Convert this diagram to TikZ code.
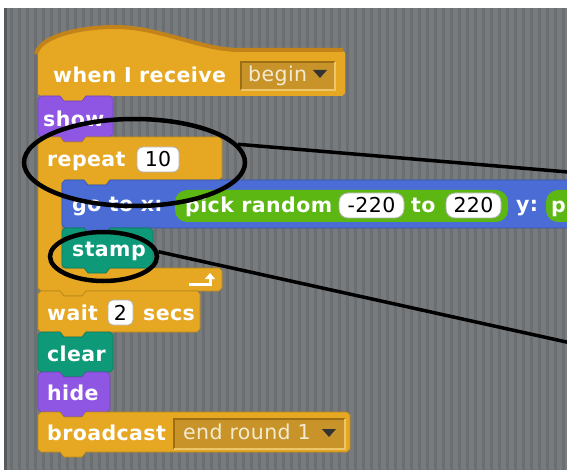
\documentclass[tikz,border=0pt]{standalone}
\usepackage{fontspec}
\usepackage{tikz}
\usetikzlibrary{shapes.geometric,arrows.meta}
\newfontfamily\blockfont[LetterSpace=2]{DejaVu Sans}
\definecolor{bggray}{HTML}{777B7E}
\definecolor{bgstripe}{HTML}{6B6F72}
\definecolor{bgedge}{HTML}{565A5D}
\definecolor{ctrl}{HTML}{E6A822}
\definecolor{ctrldark}{HTML}{C2841A}
\definecolor{looks}{HTML}{8F56E3}
\definecolor{motion}{HTML}{4A6CD4}
\definecolor{oper}{HTML}{5CB712}
\definecolor{pen}{HTML}{0E9A78}
\definecolor{ddfill}{HTML}{C8942A}
\definecolor{dddark}{HTML}{9C6F15}
\definecolor{ddlight}{HTML}{EDC56A}
\definecolor{ddtext}{HTML}{F4EAD0}

\newcommand{\blok}[5]{%
  \filldraw[fill=#5,draw=#5!80!black,line width=0.6pt] (#1,#2+3) -- (#1+3,#2) -- (#1+22,#2) -- (#1+26,#2+5)
    -- (#1+44,#2+5) -- (#1+48,#2) -- (#3-3,#2) -- (#3,#2+3) -- (#3,#4-3) -- (#3-3,#4)
    -- (#1+48,#4) -- (#1+44,#4+5) -- (#1+26,#4+5) -- (#1+22,#4) -- (#1+3,#4) -- (#1,#4-3) -- cycle;}

\tikzset{
  lbl/.style={text=white,font=\blockfont\bfseries\fontsize{20.5}{22}\selectfont,inner sep=0pt,anchor=base west},
  menu/.style={text=ddtext,font=\blockfont\fontsize{20.5}{22}\selectfont,inner sep=0pt,anchor=base west},
  num/.style={text=black,font=\blockfont\fontsize{20.5}{22}\selectfont,inner sep=0pt,anchor=base},
  numbox/.style={fill=white,draw=black!30,line width=0.8pt,rounded corners=6pt},
  ring/.style={ellipse,draw=black,line width=4.5pt,inner sep=0pt},
  pointer/.style={draw=black,line width=3.5pt}
}

\begin{document}
\begin{tikzpicture}[x=1pt,y=-1pt]
\useasboundingbox (0,0) rectangle (567,470);
\clip (0,0) rectangle (567,470);

\fill[white] (0,0) rectangle (567,470);
\fill[bggray] (4,8) rectangle (567,470);
\foreach \x in {10,18,...,570}
    \fill[bgstripe] (\x,8) rectangle (\x+2.5,470);
\fill[bgedge] (4,8) rectangle (7,470);

% hat block
\fill[ctrl] (38,94) -- (38,54) .. controls (40,36) and (80,27) .. (115,27) .. controls (160,27) and (200,50) .. (240,50)
    -- (342,50) -- (345,53) -- (345,93) -- (342,96) -- (86,96) -- (82,101) -- (64,101) -- (60,96) -- (41,96) -- cycle;
\draw[ctrldark,line width=4pt] (36,54) .. controls (40,36) and (80,27) .. (115,27) .. controls (160,27) and (200,50) .. (240,50) -- (343,50);
\fill[ddfill] (241,62) rectangle (335,90);
\draw[dddark,line width=1.5pt] (241,90) -- (241,62) -- (335,62);
\draw[ddlight,line width=1.5pt] (335,62) -- (335,90) -- (241,90);
\fill[black!80] (313,70) -- (327,70) -- (320,78) -- cycle;

\blok{38}{96}{113}{137}{looks}

% repeat
\filldraw[fill=ctrl,draw=ctrl!80!black,line width=0.6pt] (38,140) -- (41,137) -- (60,137) -- (64,142) -- (82,142) -- (86,137) -- (219,137) -- (222,140)
    -- (222,177) -- (219,180) -- (110,180) -- (106,185) -- (88,185) -- (84,180) -- (65,180) -- (62,183)
    -- (62,268) -- (219,268) -- (222,271) -- (222,288) -- (219,291) -- (86,291) -- (82,296) -- (64,296)
    -- (60,291) -- (41,291) -- (38,288) -- cycle;
\draw[numbox] (137,147) rectangle (179,172);
\draw[white,line width=3pt,-{Triangle[length=6pt,width=10pt]}] (189,284) -- (210,284) -- (210,273);

\blok{62}{180}{620}{228}{motion}
\fill[oper,rounded corners=12pt] (175,190) rectangle (508,222);
\fill[oper,rounded corners=12pt] (546,190) rectangle (640,222);
\draw[numbox,rounded corners=9pt] (339,193) rectangle (404,218);
\draw[numbox,rounded corners=9pt] (446,193) rectangle (501,218);

\blok{62}{228}{153}{268}{pen}

\blok{38}{291}{200}{332}{ctrl}
\draw[numbox,rounded corners=5pt] (108,300) rectangle (133,325);
\blok{38}{332}{113}{372}{pen}
\blok{38}{372}{110}{412}{looks}
\blok{38}{412}{350}{452}{ctrl}
\fill[ddfill] (174,419) rectangle (345,449);
\draw[dddark,line width=1.5pt] (174,449) -- (174,419) -- (345,419);
\draw[ddlight,line width=1.5pt] (345,419) -- (345,449) -- (174,449);
\fill[black!80] (322,429) -- (336,429) -- (329,437) -- cycle;

\node[lbl] (whentxt) at (53,83) {when I receive};
\node[menu] (begintxt) at (248,82) {begin};
\node[lbl] (showtxt) at (43,127) {show};
\node[lbl] (reptxt) at (47,167) {repeat};
\node[num] (tentxt) at (158,167) {10};
\node[lbl] (gotxt) at (72,212) {go to x:};
\node[lbl] (picktxt) at (185,213) {pick random};
\node[num] (lowtxt) at (371.5,213) {-220};
\node[lbl] (totxt) at (411,213) {to};
\node[num] (hightxt) at (473.5,213) {220};
\node[lbl] (ytxt) at (516,212) {y:};
\node[lbl] (ptxt) at (551,213) {p};
\node[lbl] (stamptxt) at (72,257) {stamp};
\node[lbl] (waittxt) at (47,320) {wait};
\node[num] (twotxt) at (120.5,320) {2};
\node[lbl] (secstxt) at (143,320) {secs};
\node[lbl] (cleartxt) at (47,361) {clear};
\node[lbl] (hidetxt) at (47,400) {hide};
\node[lbl] (casttxt) at (47,440) {broadcast};
\node[menu] (roundtxt) at (183,439) {end round 1};

\node[ring,minimum width=221pt,minimum height=87pt] (repring) at (134.5,162.5) {};
\node[ring,minimum width=107pt,minimum height=49pt] (stampring) at (103.5,256.5) {};
\coordinate (repend) at (580,173);
\coordinate (stampend) at (580,345);
\draw[pointer] (repring.10) -- (repend);
\draw[pointer] (stampring.5) -- (stampend);
\end{tikzpicture}
\end{document}
